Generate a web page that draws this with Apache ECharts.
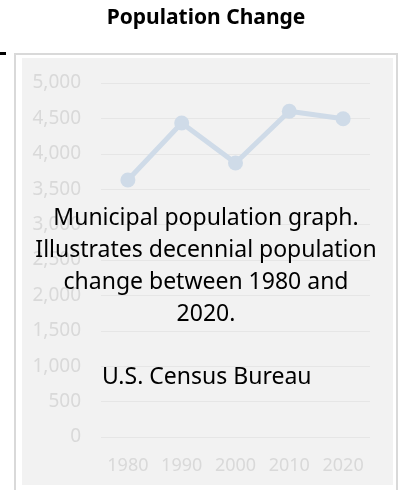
<!DOCTYPE html>
<html>
<head>
<meta charset="utf-8">
<script src="https://cdn.jsdelivr.net/npm/echarts@6/dist/echarts.min.js"></script>
<style>
  html, body { margin: 0; padding: 0; background: #fff; }
  #chart { width: 400px; height: 490px; }
</style>
</head>
<body>
<div id="chart"></div>
<script>
// census years and population
const years = ['1980', '1990', '2000', '2010', '2020'];
const population = [3630, 4435, 3870, 4600, 4495];

const chart = echarts.init(document.getElementById('chart'));

const option = {
  animation: false,
  backgroundColor: '#fff',
  graphic: [
    // outer border
    { type: 'rect', z: -10, shape: { x: 15, y: 54, width: 382, height: 460 },
      style: { fill: '#fff', stroke: '#d9d9d9', lineWidth: 2 } },
    // plot background
    { type: 'rect', z: -9, shape: { x: 22, y: 58, width: 371, height: 427 },
      style: { fill: '#f2f2f2' } },
    { type: 'rect', shape: { x: 0, y: 52, width: 6, height: 3 }, style: { fill: '#000' } },
    { type: 'text', x: 206, y: 8,
      style: { text: 'Population Change', font: 'bold 21px "Noto Sans"', fill: '#000', align: 'center' } },
    { type: 'text', z: 100, x: 206, y: 202,
      style: {
        text: 'Municipal population graph.\nIllustrates decennial population\nchange between 1980 and\n2020.',
        font: '23px "Noto Sans"', lineHeight: 32, fill: '#000', align: 'center'
      } },
    { type: 'text', z: 100, x: 102, y: 366,
      style: { text: 'U.S. Census Bureau', font: '23px "Noto Sans"', fill: '#000' } }
  ],
  grid: { left: 101, right: 30, top: 83, bottom: 53 },
  xAxis: {
    type: 'category',
    data: years,
    axisLine: { show: false },
    axisTick: { show: false },
    axisLabel: { color: '#d9d9d9', fontSize: 18, fontFamily: 'Noto Sans', margin: 20 }
  },
  yAxis: {
    type: 'value',
    min: 0,
    max: 5000,
    interval: 500,
    axisLine: { show: false },
    axisTick: { show: false },
    splitLine: { lineStyle: { color: '#e6e6e6', width: 1 } },
    axisLabel: {
      color: '#d9d9d9', fontSize: 19, fontFamily: 'Noto Sans', margin: 20,
      formatter: v => v.toLocaleString('en-US')
    }
  },
  series: [{
    type: 'line',
    data: population,
    symbol: 'circle',
    symbolSize: 15,
    lineStyle: { color: '#cfdbe8', width: 5 },
    itemStyle: { color: '#cfdbe8' }
  }]
};

chart.setOption(option);
</script>
</body>
</html>
